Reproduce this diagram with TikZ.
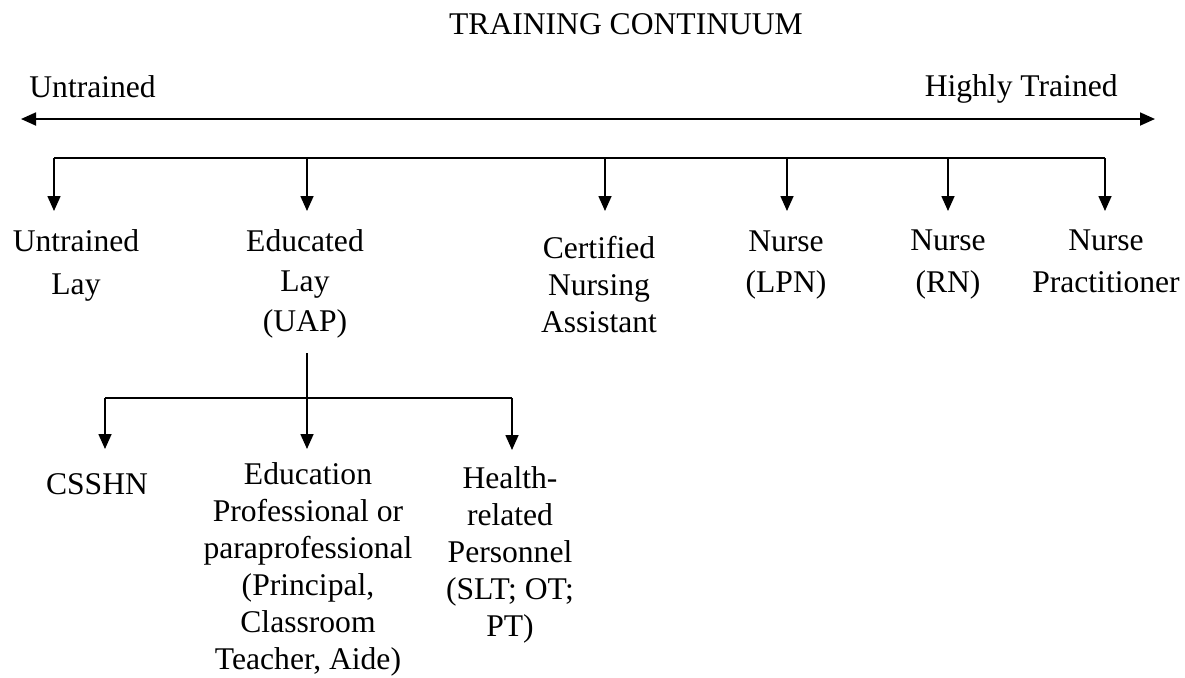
\documentclass[tikz,border=0pt]{standalone}
\usepackage{fontspec}
\setmainfont{Liberation Serif}
\usetikzlibrary{arrows.meta}
\begin{document}
\begin{tikzpicture}[x=0.5pt,y=-0.5pt,
  lbl/.style={inner sep=0pt, align=center, font=\fontsize{15.8pt}{20pt}\selectfont},
  conn/.style={line width=0.8pt, -{Triangle[length=7.5pt,width=6.5pt]}},
  rail/.style={line width=0.9pt},
  axisline/.style={line width=0.9pt, {Triangle[length=7.5pt,width=6.5pt]}-{Triangle[length=7.5pt,width=6.5pt]}}]
\useasboundingbox (0,0) rectangle (1185,677);

% heading and the continuum axis
\node[lbl, anchor=base] (title) at (626,34) {TRAINING CONTINUUM};
\node[lbl, anchor=base west] (lo) at (29,97) {Untrained};
\node[lbl, anchor=base east] (hi) at (1118,96) {Highly Trained};
\coordinate (axL) at (21,119);
\coordinate (axR) at (1155,119);
\draw[axisline] (axL) -- (axR);

% levels along the continuum
\node[lbl, anchor=north, font=\fontsize{15.8pt}{21.5pt}\selectfont] (ulay) at (76,229) {Untrained\\Lay};
\node[lbl, anchor=north] (elay) at (305,229) {Educated\\Lay\\(UAP)};
\node[lbl, anchor=north, font=\fontsize{15.8pt}{18.5pt}\selectfont] (cna) at (599,236) {Certified\\Nursing\\Assistant};
\node[lbl, anchor=north, font=\fontsize{15.8pt}{20.5pt}\selectfont] (lpn) at (786,230) {Nurse\\(LPN)};
\node[lbl, anchor=north, font=\fontsize{15.8pt}{21pt}\selectfont] (rn) at (948,229) {Nurse\\(RN)};
\node[lbl, anchor=north, font=\fontsize{15.8pt}{21pt}\selectfont] (np) at (1106,229) {Nurse\\Practitioner};

% branching bracket to the levels
\foreach \n/\x in {1/54, 2/307, 3/605, 4/787, 5/948, 6/1105} {
  \coordinate (b\n) at (\x,158);
  \coordinate (t\n) at (\x,211);
}
\draw[rail] (b1) -- (b6);
\foreach \n in {1,...,6} { \draw[conn] (b\n) -- (t\n); }

% kinds of educated lay personnel
\node[lbl, anchor=base] (csshn) at (97,494) {CSSHN};
\node[lbl, anchor=north, font=\fontsize{15.8pt}{18.55pt}\selectfont] (edu) at (308,462)
  {Education\\Professional or\\paraprofessional\\(Principal,\\Classroom\\Teacher, Aide)};
\node[lbl, anchor=north, font=\fontsize{15.8pt}{18.5pt}\selectfont] (hrp) at (510,466)
  {Health-\\related\\Personnel\\(SLT; OT;\\PT)};

\coordinate (s0) at (307,353);
\coordinate (c1) at (105,398);
\coordinate (c3) at (512,398);
\coordinate (u1) at (105,449);
\coordinate (u2) at (307,449);
\coordinate (u3) at (512,450);
\draw[rail] (c1) -- (c3);
\draw[conn] (s0) -- (u2);
\draw[conn] (c1) -- (u1);
\draw[conn] (c3) -- (u3);
\end{tikzpicture}
\end{document}
